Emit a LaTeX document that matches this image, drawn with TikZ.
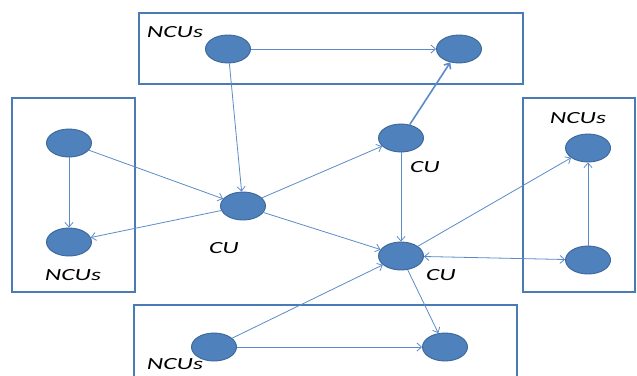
\documentclass[tikz,border=0pt]{standalone}
\usepackage{fontspec}
\setmainfont{Carlito}
\usetikzlibrary{shapes.geometric,arrows.meta}
\definecolor{nodefill}{HTML}{4F81BD}
\definecolor{nodeline}{HTML}{3A6598}
\definecolor{linkblue}{HTML}{5B8BC9}
\definecolor{boxblue}{HTML}{4A7BB7}
\newcommand{\unitlabel}[1]{\scalebox{1.5}[1]{\itshape #1}}
\tikzset{
  unit/.style={ellipse, fill=nodefill, draw=nodeline, line width=0.9pt,
               minimum width=45pt, minimum height=28pt, inner sep=0pt},
  grp/.style={draw=boxblue, line width=1.4pt},
  link/.style={draw=linkblue, line width=0.8pt,
               -{Straight Barb[length=4.5pt,width=8pt]}},
  thicklink/.style={link, line width=1.6pt},
  twoway/.style={link, {Straight Barb[length=4.5pt,width=8pt]}-{Straight Barb[length=4.5pt,width=8pt]}},
  lbl/.style={anchor=base, inner sep=0pt, font=\fontsize{17}{20}\selectfont}
}
\begin{document}
\begin{tikzpicture}[x=1pt,y=-1pt]
\useasboundingbox (0,0) rectangle (637,375);
\clip (0,0) rectangle (637,375);

% group boxes
\draw[grp] (139,13) rectangle (523,84);
\draw[grp] (12,98) rectangle (135,292);
\draw[grp] (523,98) rectangle (635,292);
\draw[grp] (134,305) rectangle (517,390);

% units
\node[unit] (t1) at (228,49) {};
\node[unit] (t2) at (459,49) {};
\node[unit] (l1) at (69,143) {};
\node[unit] (l2) at (69,242) {};
\node[unit] (cl) at (243,206) {};
\node[unit] (cu) at (401,138) {};
\node[unit] (cd) at (401,256) {};
\node[unit] (r1) at (588,148) {};
\node[unit] (r2) at (588,260) {};
\node[unit] (b1) at (214,347) {};
\node[unit] (b2) at (445,347) {};

% labels
\node[lbl] (lt) at (175,37) {\unitlabel{NCUs}};
\node[lbl] (ll) at (73,280) {\unitlabel{NCUs}};
\node[lbl] (lr) at (578,123) {\unitlabel{NCUs}};
\node[lbl] (lb) at (175,369) {\unitlabel{NCUs}};
\node[lbl] (lcl) at (224,253) {\unitlabel{CU}};
\node[lbl] (lcu) at (425,172) {\unitlabel{CU}};
\node[lbl] (lcd) at (441,280) {\unitlabel{CU}};

% connections
\draw[link] (t1) -- (t2);
\draw[link] (t1) -- (cl);
\draw[thicklink] (cu) -- (t2);
\draw[link] (l1) -- (l2);
\draw[link] (l1) -- (cl);
\draw[link] (cl) -- (l2);
\draw[link] (cl) -- (cu);
\draw[link] (cl) -- (cd);
\draw[link] (cu) -- (cd);
\draw[link] (cd) -- (r1);
\draw[link] (r2) -- (r1);
\draw[twoway] (cd) -- (r2);
\draw[link] (b1) -- (cd);
\draw[link] (cd) -- (b2);
\draw[link] (b1) -- (b2);
\end{tikzpicture}
\end{document}
